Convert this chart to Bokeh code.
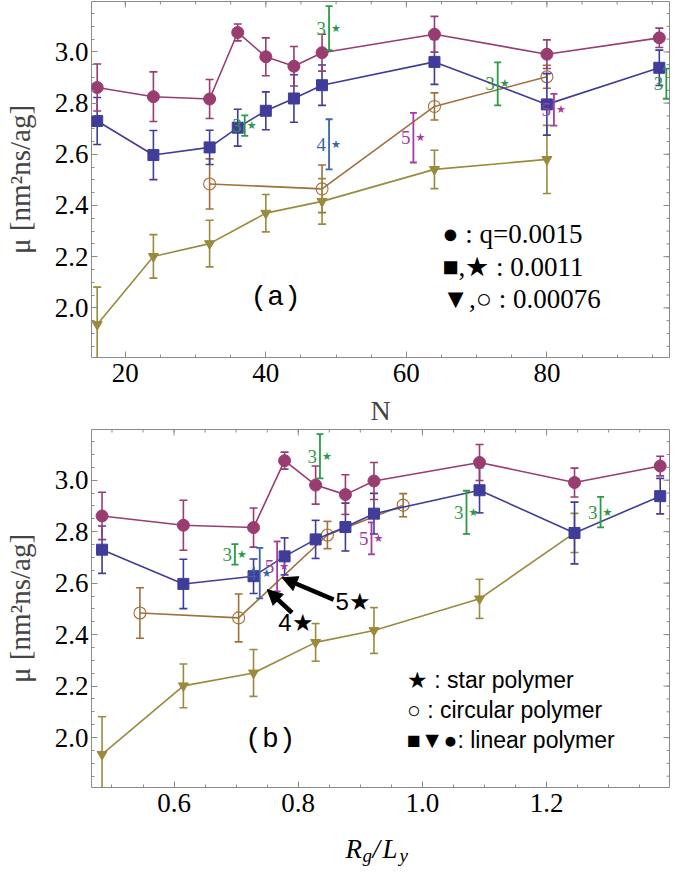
from bokeh.plotting import figure
from bokeh.layouts import column
from bokeh.models import (ColumnDataSource, FixedTicker, PrintfTickFormatter,
                          Range1d, Arrow, NormalHead)
from bokeh.core.properties import value
from bokeh.embed import file_html
from bokeh.resources import INLINE
import math

# ---------------- data ----------------
N_lin = [16, 24, 32, 36, 40, 44, 48, 64, 80, 96]
rg_lin = [0.484, 0.615, 0.728, 0.778, 0.828, 0.876, 0.922, 1.092, 1.245, 1.383]
mu_q15 = [2.861, 2.825, 2.816, 3.076, 2.981, 2.944, 2.997, 3.069, 2.991, 3.055]
err_q15 = [0.092, 0.097, 0.076, 0.033, 0.074, 0.077, 0.072, 0.070, 0.056, 0.038]
mu_q11 = [2.730, 2.597, 2.627, 2.704, 2.770, 2.818, 2.870, 2.961, 2.795, 2.938]
err_q11 = [0.092, 0.096, 0.067, 0.072, 0.074, 0.093, 0.079, 0.088, 0.120, 0.069]

N_tri = [16, 24, 32, 40, 48, 64, 80]
rg_tri = [0.484, 0.615, 0.728, 0.828, 0.922, 1.092, 1.245]
mu_q076_a = [1.935, 2.201, 2.251, 2.370, 2.416, 2.541, 2.580]
err_q076_a = [0.146, 0.085, 0.091, 0.073, 0.089, 0.075, 0.133]
mu_q076_b = [1.935, 2.201, 2.251, 2.370, 2.416, 2.539, 2.795]
err_q076_b = [0.146, 0.085, 0.091, 0.073, 0.089, 0.076, 0.076]

N_circ = [32, 48, 64, 80]
rg_circ = [0.545, 0.704, 0.847, 0.969]
mu_circ = [2.484, 2.465, 2.787, 2.903]
err_circ = [0.098, 0.093, 0.053, 0.045]

N_star = [37, 49, 49, 61, 73, 81, 97]
rg_star = [0.698, 0.835, 0.738, 0.766, 1.071, 0.918, 1.287]
mu_star = [2.712, 3.093, 2.639, 2.665, 2.875, 2.774, 2.876]
err_star = [0.040, 0.086, 0.098, 0.097, 0.084, 0.062, 0.059]
arms_star = ["3", "3", "4", "5", "3", "5", "3"]

# ticks
y_major = [2.0, 2.2, 2.4, 2.6, 2.8, 3.0]
y_minor = [round(1.85 + 0.05 * i, 2) for i in range(27)]
xa_major = [20, 40, 60, 80]
xa_minor = list(range(20, 100, 5))
xb_major = [0.6, 0.8, 1.0, 1.2]
xb_minor = [round(0.5 + 0.05 * i, 2) for i in range(18)]

# legends / annotations
leg_a_text = ["\u25cf : q=0.0015", "\u25a0,\u2605 : 0.0011", "\u25bc,\u25cb : 0.00076"]
leg_a_x = [65.1, 65.1, 65.1]
leg_a_y = [2.290, 2.160, 2.035]
leg_b_text = ["\u2605 : star polymer", "\u25cb : circular polymer", "\u25a0\u25bc\u25cf: linear polymer"]
leg_b_x = [0.975, 0.975, 0.975]
leg_b_y = [2.225, 2.108, 1.991]
tag_a = ("(a)", 41.4, 2.039)
tag_b = ("(b)", 0.755, 1.991)
arrow_x0 = [0.857, 0.790]
arrow_y0 = [2.536, 2.485]
arrow_x1 = [0.774, 0.750]
arrow_y1 = [2.621, 2.575]
arrow_text = ["5\u2605", "4\u2605"]
arrow_text_x = [0.860, 0.768]
arrow_text_y = [2.529, 2.447]

# ---------------- style ----------------
C15 = "#993d71"
C11 = "#3f3d99"
C076 = "#998a3d"
CCIRC = "#a0703c"
ARM_COL = {"3": "#2e9a48", "4": "#3c64aa", "5": "#a63ca0"}
GRAY = "#8a8a8a"
SERIF = "Liberation Serif"
SANS = "Liberation Sans"
MONO = "Liberation Mono"

yr = (1.806, 3.197)
xa_range = (15.19, 97.45)
xb_range = (0.467, 1.398)
FRAME_W = 578
LEFT = 91
RIGHT = 11


def style_axis(ax, ticker, fmt):
    ax.ticker = ticker
    ax.axis_line_color = None
    ax.major_tick_line_color = GRAY
    ax.minor_tick_line_color = GRAY
    ax.major_tick_in = 6
    ax.major_tick_out = 0
    ax.minor_tick_in = 3
    ax.minor_tick_out = 0
    ax.formatter = fmt
    ax.major_label_text_font = SERIF
    ax.major_label_text_font_size = "27px"
    ax.major_label_text_color = "black"


def make_fig(xr, xmaj, xmin, xfmt, frame_h, top_b, bottom_b):
    p = figure(frame_width=FRAME_W, frame_height=frame_h,
               x_range=Range1d(*xr), y_range=Range1d(*yr),
               output_backend="svg", toolbar_location=None,
               min_border_left=LEFT, min_border_right=RIGHT,
               min_border_top=top_b, min_border_bottom=bottom_b,
               background_fill_color="white", border_fill_color="white",
               outline_line_color=GRAY, outline_line_width=1)
    p.grid.visible = False
    style_axis(p.xaxis[0], FixedTicker(ticks=xmaj, minor_ticks=xmin), PrintfTickFormatter(format=xfmt))
    style_axis(p.yaxis[0], FixedTicker(ticks=y_major, minor_ticks=y_minor), PrintfTickFormatter(format="%.1f"))
    p.xaxis[0].major_label_standoff = 6
    p.yaxis[0].major_label_standoff = 3
    ya = p.yaxis[0]
    ya.axis_label = "\u03bc [nm\u00b2ns/ag]"
    ya.axis_label_text_font = SERIF
    ya.axis_label_text_font_size = "29px"
    ya.axis_label_text_font_style = "normal"
    ya.axis_label_standoff = 16
    # inward ticks on the top and right frame edges (half of each dash is clipped away)
    p.scatter(x=xmaj, y=[yr[1]] * len(xmaj), marker="dash", angle=math.pi / 2, size=12,
              line_color=GRAY, line_width=1)
    p.scatter(x=xmin, y=[yr[1]] * len(xmin), marker="dash", angle=math.pi / 2, size=6,
              line_color=GRAY, line_width=1)
    p.scatter(x=[xr[1]] * len(y_major), y=y_major, marker="dash", size=12, line_color=GRAY, line_width=1)
    p.scatter(x=[xr[1]] * len(y_minor), y=y_minor, marker="dash", size=6, line_color=GRAY, line_width=1)
    return p


def errbars(p, x, mu, err, color, cap=8, lw=1.6):
    lo = [m - e for m, e in zip(mu, err)]
    hi = [m + e for m, e in zip(mu, err)]
    p.segment(x0=x, y0=lo, x1=x, y1=hi, line_color=color, line_width=lw)
    p.scatter(x=list(x) + list(x), y=lo + hi, marker="dash", size=cap, line_color=color, line_width=lw)


def series(p, x, mu, err, color, marker, size, fill=True):
    errbars(p, x, mu, err, color)
    p.line(x, mu, line_color=color, line_width=1.6)
    if fill:
        p.scatter(x, mu, marker=marker, size=size, fill_color=color, line_color=color)
    else:
        p.scatter(x, mu, marker=marker, size=size, fill_color=None, line_color=color, line_width=1.1)


def stars(p, x, mu, err, arms):
    cols = [ARM_COL[a] for a in arms]
    for a in sorted(set(arms)):
        idx = [i for i, v in enumerate(arms) if v == a]
        errbars(p, [x[i] for i in idx], [mu[i] for i in idx], [err[i] for i in idx],
                ARM_COL[a], cap=7, lw=1.8)
    src = ColumnDataSource(dict(x=x, y=mu, t=arms, c=cols, s=["\u2605"] * len(x)))
    p.text(x="x", y="y", text="t", text_color="c", source=src, text_align="right",
           text_baseline="middle", x_offset=-3, text_font=value(SERIF), text_font_size="19px")
    p.text(x="x", y="y", text="s", text_color="c", source=src, text_align="left",
           text_baseline="middle", x_offset=2, text_font=value("DejaVu Sans"), text_font_size="11px")


# ---------------- panel (a) ----------------
pa = make_fig(xa_range, xa_major, xa_minor, "%d", 356, 1, 72)
pa.xaxis[0].axis_label = "N"
pa.xaxis[0].axis_label_text_font = SERIF
pa.xaxis[0].axis_label_text_font_size = "28px"
pa.xaxis[0].axis_label_text_font_style = "normal"
pa.xaxis[0].axis_label_standoff = 10

series(pa, N_circ, mu_circ, err_circ, CCIRC, "circle", 12, fill=False)
series(pa, N_tri, mu_q076_a, err_q076_a, C076, "inverted_triangle", 10)
series(pa, N_lin, mu_q11, err_q11, C11, "square", 11)
series(pa, N_lin, mu_q15, err_q15, C15, "circle", 12)
stars(pa, N_star, mu_star, err_star, arms_star)

pa.text(x=leg_a_x, y=leg_a_y, text=leg_a_text, text_align="left", text_baseline="middle",
        text_font=value(SERIF), text_font_size="27px", text_color="black")
pa.text(x=[tag_a[1]], y=[tag_a[2]], text=[tag_a[0]], text_align="center", text_baseline="middle",
        text_font=value(MONO), text_font_size="28px", text_color="black")

# ---------------- panel (b) ----------------
pb = make_fig(xb_range, xb_major, xb_minor, "%.1f", 358, 0, 40)

series(pb, rg_circ, mu_circ, err_circ, CCIRC, "circle", 12, fill=False)
series(pb, rg_tri, mu_q076_b, err_q076_b, C076, "inverted_triangle", 10)
series(pb, rg_lin, mu_q11, err_q11, C11, "square", 11)
series(pb, rg_lin, mu_q15, err_q15, C15, "circle", 12)
stars(pb, rg_star, mu_star, err_star, arms_star)

pb.text(x=leg_b_x, y=leg_b_y, text=leg_b_text, text_align="left", text_baseline="middle",
        text_font=value(SANS), text_font_size="23px", text_color="black")
pb.text(x=[tag_b[1]], y=[tag_b[2]], text=[tag_b[0]], text_align="center", text_baseline="middle",
        text_font=value(MONO), text_font_size="28px", text_color="black")

arr_src = ColumnDataSource(dict(x0=arrow_x0, y0=arrow_y0, x1=arrow_x1, y1=arrow_y1))
pb.add_layout(Arrow(x_start="x0", y_start="y0", x_end="x1", y_end="y1", source=arr_src,
                    line_width=4.5, line_color="black",
                    end=NormalHead(size=15, fill_color="black", line_color="black")))
pb.text(x=arrow_text_x, y=arrow_text_y, text=arrow_text, text_align="left", text_baseline="middle",
        text_font=value(SANS), text_font_size="24px", text_color="black")

# ---------------- x-axis label of panel (b): R_g/L_y (strip below panel b) ----------------
LAB_H = 43
pc = figure(frame_width=FRAME_W, frame_height=LAB_H, x_range=Range1d(*xb_range),
            y_range=Range1d(0, LAB_H), output_backend="svg", toolbar_location=None,
            min_border_left=LEFT, min_border_right=RIGHT, min_border_top=0, min_border_bottom=0,
            outline_line_color=None, background_fill_color="white", border_fill_color="white")
pc.axis.visible = False
pc.grid.visible = False


def bx(px):
    return xb_range[0] + (px - LEFT) / FRAME_W * (xb_range[1] - xb_range[0])


# (text, left pixel, font size, vertical centre height above strip bottom)
pieces = [("R", 345, 27, 22), ("g", 362, 19, 15), ("/", 372, 27, 22), ("L", 382, 27, 22), ("y", 399, 19, 15)]
pc.text(x=[bx(px) for _, px, _, _ in pieces], y=[b for _, _, _, b in pieces],
        text=[t for t, _, _, _ in pieces], text_font_size=[f"{fs}px" for _, _, fs, _ in pieces],
        text_font=value(SERIF), text_font_style="italic", text_align="left",
        text_baseline="middle", text_color="black")

layout = column(pa, pb, pc)
open("out.html", "w").write(file_html(layout, INLINE))
